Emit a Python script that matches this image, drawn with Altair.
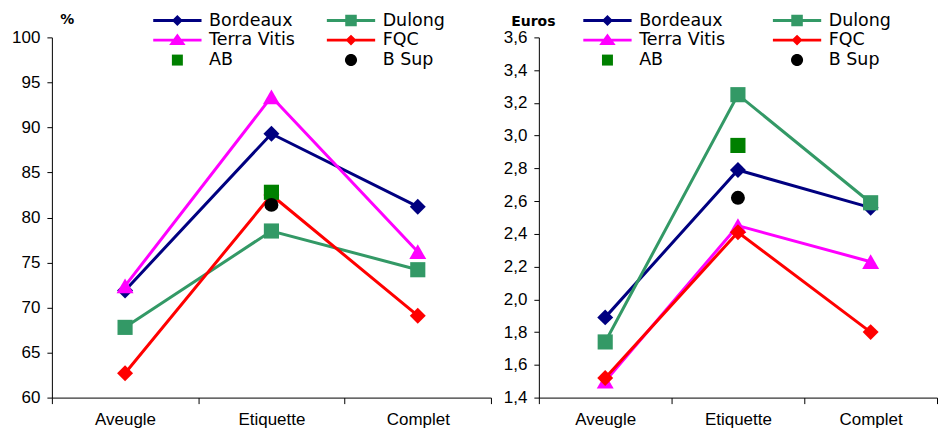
import altair as alt
import pandas as pd

# Categories and series
categories = ["Aveugle", "Etiquette", "Complet"]
series_names = ["Bordeaux", "Dulong", "Terra Vitis", "FQC", "AB", "B Sup"]
series_colors = ["#000080", "#339966", "#FF00FF", "#FF0000", "#008000", "#000000"]
line_series = ["Bordeaux", "Dulong", "Terra Vitis", "FQC"]

# Left panel: scores in %
pct_bordeaux = [71.9, 89.3, 81.2]
pct_dulong = [67.8, 78.5, 74.2]
pct_terra_vitis = [72.4, 93.4, 76.2]
pct_fqc = [62.7, 82.5, 69.1]
pct_ab = [82.8]      # Etiquette only
pct_b_sup = [81.4]   # Etiquette only
pct_ticks = [60, 65, 70, 75, 80, 85, 90, 95, 100]

# Right panel: prices in euros
eur_bordeaux = [1.89, 2.79, 2.56]
eur_dulong = [1.74, 3.25, 2.59]
eur_terra_vitis = [1.50, 2.45, 2.23]
eur_fqc = [1.52, 2.41, 1.80]
eur_ab = [2.94]
eur_b_sup = [2.62]
eur_ticks = [1.4, 1.6, 1.8, 2.0, 2.2, 2.4, 2.6, 2.8, 3.0, 3.2, 3.4, 3.6]

# Marker shapes and sizes on the plot
marker_shape = {"Bordeaux": "diamond", "Dulong": "square", "Terra Vitis": "triangle-up",
                "FQC": "diamond", "AB": "square", "B Sup": "circle"}
marker_size = {"diamond": 256, "square": 230, "triangle-up": 289, "circle": 196}
series_color = dict(zip(series_names, series_colors))

# Legend glyphs (unit coordinates): a thin bar for the line, with the marker on top
BAR = "M-4.4,-0.27H4.4V0.27H-4.4Z"
SPAN = "M-4.4,0M4.4,0"
legend_paths = [
    BAR + "M0,-1L1,0L0,1L-1,0Z",
    BAR + "M-1.05,-1.05H1.05V1.05H-1.05Z",
    BAR + "M0,-1.2L1.5,0.9L-1.5,0.9Z",
    BAR + "M0,-1L1,0L0,1L-1,0Z",
    SPAN + "M-1,-1H1V1H-1Z",
    SPAN + "M-1.1,0A1.1,1.1,0,1,0,1.1,0A1.1,1.1,0,1,0,-1.1,0Z",
]


def to_frame(values):
    rows = []
    for name, vals in values.items():
        cats = categories if len(vals) == 3 else ["Etiquette"]
        for c, v in zip(cats, vals):
            rows.append({"series": name, "cat": c, "value": v})
    return pd.DataFrame(rows)


pct_df = to_frame({"Bordeaux": pct_bordeaux, "Dulong": pct_dulong,
                   "Terra Vitis": pct_terra_vitis, "FQC": pct_fqc,
                   "AB": pct_ab, "B Sup": pct_b_sup})
eur_df = to_frame({"Bordeaux": eur_bordeaux, "Dulong": eur_dulong,
                   "Terra Vitis": eur_terra_vitis, "FQC": eur_fqc,
                   "AB": eur_ab, "B Sup": eur_b_sup})

AXIS_FONT = "Liberation Sans"
LEGEND_FONT = "DejaVu Sans"


def panel(df, width, domain, ticks, title, title_x, title_y, label_expr,
          legend_x, legend_y, col_pad):
    x = alt.X("cat:N", sort=categories,
              scale=alt.Scale(type="band", paddingInner=0, paddingOuter=0),
              axis=alt.Axis(title=None, labelAngle=0, tickBand="extent", tickSize=6,
                            labelPadding=8, labelFontSize=17, labelFont=AXIS_FONT))
    y_axis = dict(values=ticks, tickSize=5, labelPadding=7, labelFontSize=17,
                  labelFont=AXIS_FONT, title=title, titleAngle=0, titleX=title_x,
                  titleY=title_y, titleAlign="center", titleBaseline="middle",
                  titleFont=LEGEND_FONT, titleFontSize=14, titleFontWeight="bold")
    if label_expr:
        y_axis["labelExpr"] = label_expr
    y = alt.Y("value:Q", scale=alt.Scale(domain=domain, nice=False, zero=False),
              axis=alt.Axis(**y_axis))
    base = alt.Chart(df).encode(x=x, y=y)

    layers = []
    # Lines, one layer per series
    for name in line_series:
        layers.append(
            base.transform_filter(alt.datum.series == name)
            .mark_line(strokeWidth=3, color=series_color[name])
        )
    # Markers, one layer per series (drawing order follows the series list)
    for name in series_names:
        shp = marker_shape[name]
        layers.append(
            base.transform_filter(alt.datum.series == name)
            .mark_point(shape=shp, filled=True, size=marker_size[shp], opacity=1,
                        color=series_color[name])
        )

    legend = alt.Legend(title=None, orient="none", legendX=legend_x, legendY=legend_y,
                        direction="horizontal", columns=2, columnPadding=col_pad,
                        rowPadding=1, padding=0, symbolSize=121, symbolStrokeWidth=0,
                        symbolOpacity=1, labelOffset=23, labelFont=LEGEND_FONT,
                        labelFontSize=17.5, labelColor="black")
    # Key layer: only carries the legend; its rows are filtered out so it draws nothing
    key = base.transform_filter("datum.value < -1e9").mark_point(filled=True, opacity=1).encode(
        color=alt.Color("series:N", scale=alt.Scale(domain=series_names, range=series_colors),
                        legend=legend),
        shape=alt.Shape("series:N", scale=alt.Scale(domain=series_names, range=legend_paths),
                        legend=legend),
    )
    layers.append(key)
    return alt.layer(*layers).properties(width=width, height=361)


left = panel(pct_df, 440, [60, 100], pct_ticks, "%", 15, -17.5, None, 117, -26, 31)
right = panel(eur_df, 399, [1.4, 3.6], eur_ticks, "Euros", -6, -16,
              "replace(format(datum.value, '.1f'), '.', ',')", 60, -26, 47)

chart = (
    alt.hconcat(left, right, spacing=11)
    .resolve_scale(color="independent", shape="independent",
                   x="independent", y="independent")
    .properties(padding={"left": 11, "top": 11, "right": 0, "bottom": 0},
                background="white")
    .configure_view(stroke=None)
    .configure_axis(grid=False, domainColor="black", tickColor="black",
                    labelColor="black", titleColor="black", domainWidth=1, tickWidth=1)
)

chart.save("out.html", embed_options={"renderer": "svg", "actions": False})
